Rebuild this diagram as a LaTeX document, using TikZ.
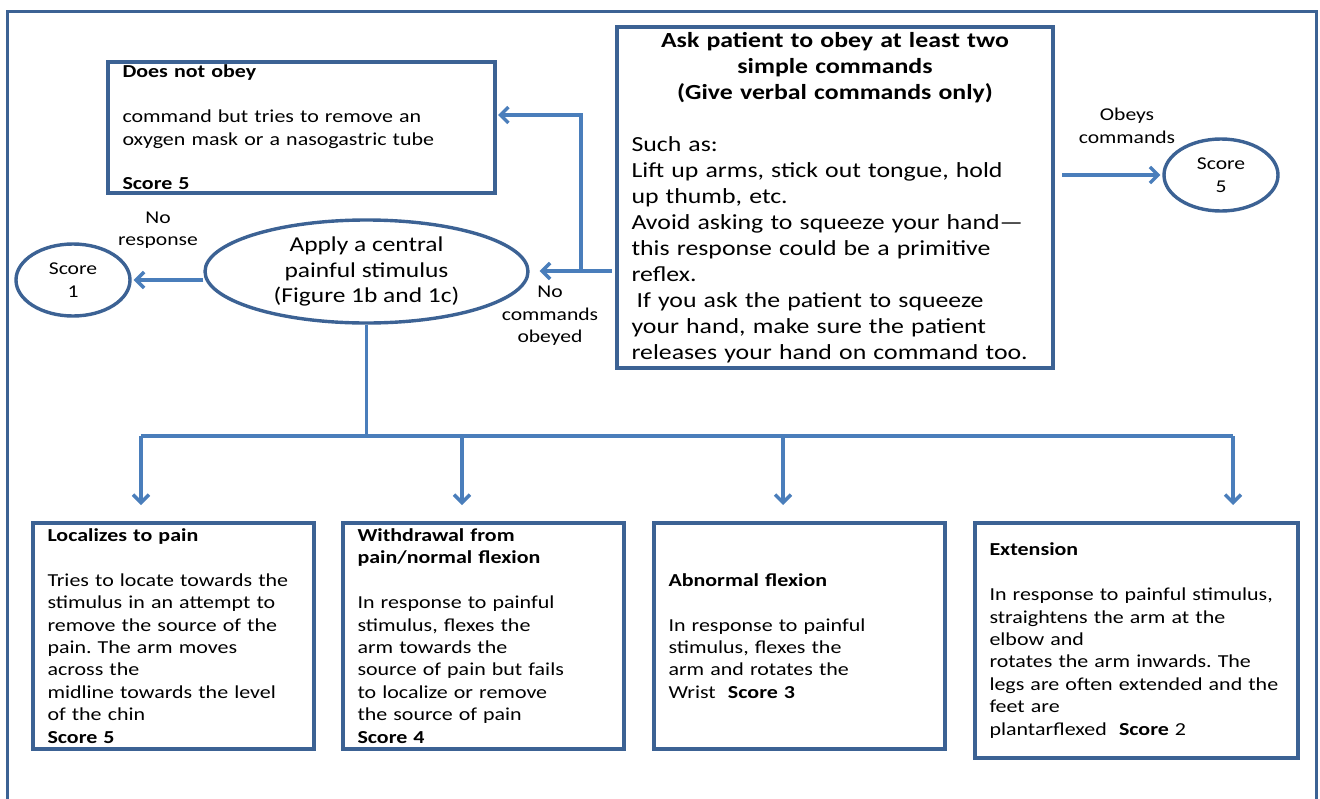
\documentclass[tikz,border=0pt]{standalone}
\usepackage{fontspec}
\setmainfont{Carlito}[FakeStretch=1.2]
\usetikzlibrary{positioning,shapes.geometric,arrows.meta}
\definecolor{boxblue}{RGB}{60,98,148}
\definecolor{arrblue}{RGB}{74,126,187}
\setlength{\parindent}{0pt}
\frenchspacing
\newcommand{\bigtxt}{\fontsize{21.5}{26}\selectfont}
\newcommand{\boxtxt}{\fontsize{18.3}{22.4}\selectfont}
\newcommand{\lbltxt}{\fontsize{18}{22.5}\selectfont}

\begin{document}
\begin{tikzpicture}[
  x=1pt, y=-1pt,
  box/.style={draw=boxblue, line width=3.4pt, outer sep=0pt, inner xsep=14.5pt, inner ysep=0pt, align=left, font=\boxtxt},
  score/.style={ellipse, draw=boxblue, line width=3.4pt, inner sep=0pt, align=center, font=\lbltxt, minimum width=114pt, minimum height=72pt},
  lbl/.style={align=center, font=\lbltxt},
  frame/.style={draw=boxblue, line width=3pt},
  bus/.style={draw=arrblue, line width=3.4pt},
  arr/.style={bus, -{Straight Barb[length=8pt,width=16pt,line width=3.4pt]}}
]
\useasboundingbox (0,0) rectangle (1320,798);
\draw[frame] (7,800) -- (7,11) -- (1316,11) -- (1316,800);

% Top part
\node[box, text width=407pt, minimum width=436pt, minimum height=341pt, font=\bigtxt] (ask) at (835,197.5) {%
  \makebox[\hsize]{\bfseries Ask patient to obey at least two}\\
  \makebox[\hsize]{\bfseries simple commands}\\
  \makebox[\hsize]{\bfseries (Give verbal commands only)}\\[26pt]
  Such as:\\
  Lift up arms, stick out tongue, hold\\
  up thumb, etc.\\
  Avoid asking to squeeze your hand---\\
  this response could be a primitive\\
  reflex.\\
  \hspace*{5pt}If you ask the patient to squeeze\\
  your hand, make sure the patient\\
  releases your hand on command too.};
\node[score] (s5) at (1221,175) {Score\\5};
\node[lbl] (obeys) at (1127,126) {Obeys\\commands};

\node[box, text width=358pt, minimum width=387pt, minimum height=131pt] (dno) at (301.5,127.5) {%
  \textbf{Does not obey}\\[22.4pt]
  command but tries to remove an\\
  oxygen mask or a nasogastric tube\\[22.4pt]
  \textbf{Score 5}};

\node[ellipse, draw=boxblue, line width=3.4pt, inner sep=0pt, minimum width=323pt, minimum height=103pt, align=center, font=\fontsize{21.2}{25.5}\selectfont] (apply) at (366.5,271.5) {Apply a central\\painful stimulus\\(Figure 1b and 1c)};
\node[score] (s1) at (73,280) {Score\\1};
\node[lbl] (noresp) at (158,230) {No\\response};
\node[lbl] (nocmd) at (550,316) {No\\commands\\obeyed};

% Bottom row
\node[box, text width=252pt, minimum width=281pt, minimum height=226pt] (loc) at (173.5,636) {%
  \textbf{Localizes to pain}\\[22.4pt]
  Tries to locate towards the\\
  stimulus in an attempt to\\
  remove the source of the\\
  pain. The arm moves\\
  across the\\
  midline towards the level\\
  of the chin\\
  \textbf{Score 5}};
\node[box, text width=252pt, minimum width=281pt, minimum height=226pt, right=29pt of loc] (wdr) {%
  \textbf{Withdrawal from}\\
  \textbf{pain/normal flexion}\\[22.4pt]
  In response to painful\\
  stimulus, flexes the\\
  arm towards the\\
  source of pain but fails\\
  to localize or remove\\
  the source of pain\\
  \textbf{Score 4}};
\node[box, text width=262pt, minimum width=291pt, minimum height=226pt, right=30pt of wdr] (abn) {%
  \textbf{Abnormal flexion}\\[22.4pt]
  In response to painful\\
  stimulus, flexes the\\
  arm and rotates the\\
  Wrist\ \ \textbf{Score 3}};
\node[box, text width=294pt, minimum width=323pt, minimum height=235pt, right=30pt of abn, yshift=-4.5pt] (ext) {%
  \textbf{Extension}\\[22.4pt]
  In response to painful stimulus,\\
  straightens the arm at the\\
  elbow and\\
  rotates the arm inwards. The\\
  legs are often extended and the\\
  feet are\\
  plantarflexed\ \ \textbf{Score} 2};

% Connectors
\coordinate (split) at (581,271);
\coordinate (bus) at (366.5,436);
\coordinate (t1) at (141,505);
\coordinate (t2) at (462,505);
\coordinate (t3) at (783,505);
\coordinate (t4) at (1233,505);

\draw[arr, shorten >=2pt] ([xshift=9pt]ask.east |- s5) -- (s5);
\draw[arr, shorten <=5pt, shorten >=10pt] (ask.west |- split) -- (apply.east |- split);
\draw[arr, shorten >=3pt] (split) |- ([yshift=12.5pt]dno.east);
\draw[arr, shorten >=2pt] (apply.west |- s1) -- (s1);
\draw[bus] (apply.south) -- (bus);
\draw[bus] (t1 |- bus) -- (t4 |- bus);
\foreach \t in {t1,t2,t3,t4}
  \draw[arr] (\t |- bus) -- (\t);
\end{tikzpicture}
\end{document}
